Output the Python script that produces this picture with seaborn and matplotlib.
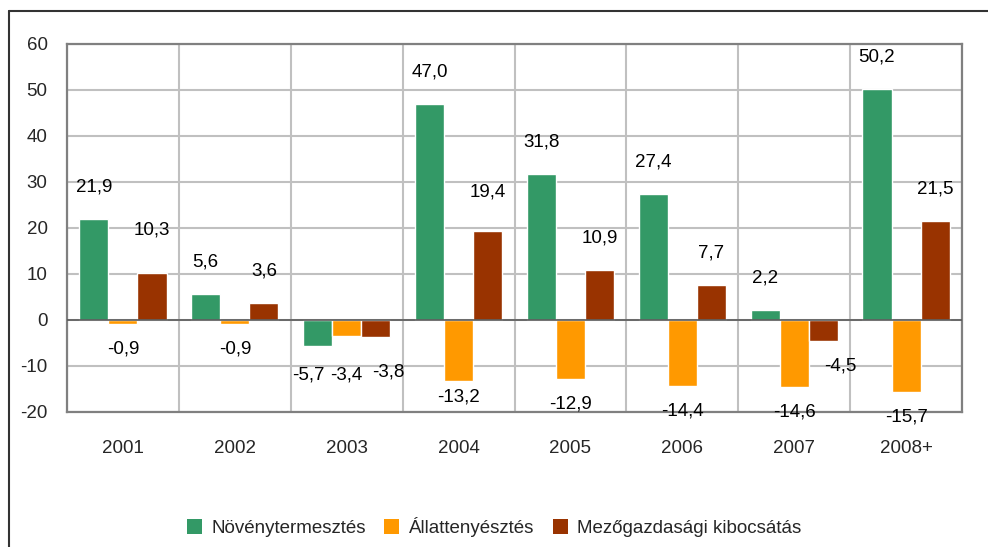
import pandas as pd
import numpy as np
import matplotlib
matplotlib.use('Agg')
import matplotlib.pyplot as plt
from matplotlib.lines import Line2D
from matplotlib.patches import Patch
import seaborn as sns

# data
years = ['2001', '2002', '2003', '2004', '2005', '2006', '2007', '2008+']
series = ['Növénytermesztés', 'Állattenyésztés', 'Mezőgazdasági kibocsátás']
noveny = [21.9, 5.6, -5.7, 47.0, 31.8, 27.4, 2.2, 50.2]
allat = [-0.9, -0.9, -3.4, -13.2, -12.9, -14.4, -14.6, -15.7]
kibocsatas = [10.3, 3.6, -3.8, 19.4, 10.9, 7.7, -4.5, 21.5]
colors = ['#339966', '#FF9900', '#993300']
y_ticks = [-20, -10, 0, 10, 20, 30, 40, 50, 60]

df = pd.DataFrame({
    'year': years * 3,
    'series': np.repeat(series, len(years)),
    'value': noveny + allat + kibocsatas,
})

sns.set_style('white')
plt.rcParams['font.family'] = ['Liberation Sans', 'DejaVu Sans']
plt.rcParams['axes.unicode_minus'] = False
FS = 13.5

fig = plt.figure(figsize=(9.88, 5.47), dpi=100)
ax = fig.add_axes([67 / 988, 1 - 412 / 547, (962 - 67) / 988, (412 - 44) / 547])

sns.barplot(data=df, x='year', y='value', hue='series', order=years, hue_order=series,
            palette=colors, saturation=1, width=0.78, gap=0, ax=ax, zorder=3)
ax.legend_.remove()

ax.set_xlim(-0.5, len(years) - 0.5)
ax.set_ylim(-20, 60)
ax.set_yticks(y_ticks)
ax.set_yticklabels([str(t) for t in y_ticks], fontsize=FS)
ax.set_xticks(range(len(years)))
ax.set_xticklabels(years, fontsize=FS)
ax.set_xlabel('')
ax.set_ylabel('')
ax.tick_params(axis='both', length=0)
ax.tick_params(axis='y', pad=14)
ax.tick_params(axis='x', pad=20)

# grid: horizontal at major ticks, vertical between categories
ax.set_xticks(np.arange(len(years) + 1) - 0.5, minor=True)
ax.tick_params(axis='x', which='minor', length=0)
ax.yaxis.grid(True, color='#c0c0c0', lw=1.5)
ax.xaxis.grid(True, which='minor', color='#c0c0c0', lw=1.5)
ax.set_axisbelow(True)
ax.axhline(0, color='#595959', lw=1.2, zorder=4)
for sp in ax.spines.values():
    sp.set_color('#808080')
    sp.set_linewidth(1.6)

# value labels (offsets in points), with a few hand nudges
nudge = {
    ('2001', 2): (0, 8), ('2004', 2): (0, 5),
    ('2003', 0): (-7, -3), ('2003', 1): (0, -10), ('2003', 2): (9, -7),
    ('2004', 1): (0, 6), ('2007', 2): (12, 0),
}
values = [noveny, allat, kibocsatas]
for s_idx, cont in enumerate(ax.containers):
    for y_idx, bar in enumerate(cont):
        val = values[s_idx][y_idx]
        dx, dy = nudge.get((years[y_idx], s_idx), (0, 0))
        off = 23 if val >= 0 else -18
        ax.annotate(f'{val:.1f}'.replace('.', ','),
                    (bar.get_x() + bar.get_width() / 2, val),
                    xytext=(dx, off + dy), textcoords='offset points',
                    ha='center', va='center', fontsize=FS, color='black')

handles = [Patch(facecolor=c, edgecolor='none') for c in colors]
fig.legend(handles, series, loc='center', bbox_to_anchor=(0.5, 1 - 527 / 547), ncol=3,
           frameon=False, fontsize=FS, handlelength=0.8, handleheight=0.8,
           handletextpad=0.5, columnspacing=1.0)

# outer chart frame (left and top edges visible)
fig.add_artist(Line2D([9 / 988, 9 / 988], [0, 1 - 11 / 547], color='#333333', lw=1.5))
fig.add_artist(Line2D([9 / 988, 1], [1 - 11 / 547, 1 - 11 / 547], color='#333333', lw=1.5))

fig.savefig('out.png', dpi=100)
